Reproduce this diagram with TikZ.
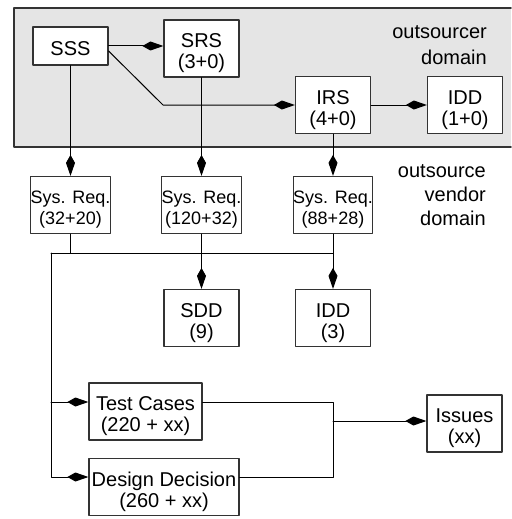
\documentclass[tikz,border=0pt]{standalone}
\usepackage{fontspec}
\setmainfont{Liberation Sans}
\usetikzlibrary{arrows.meta}
\definecolor{domaingray}{gray}{0.9}
\definecolor{boxline}{gray}{0.2}

\begin{document}
\begin{tikzpicture}[line cap=round,line join=round,x=1pt,y=-1pt,
    doc/.style={draw=boxline, line width=1.2pt, fill=white, align=center, inner sep=0pt,
      minimum width=75pt, minimum height=57pt, text height=41pt, text depth=1pt,
      font=\fontsize{20}{21}\selectfont},
    reqdoc/.style={doc, text height=40pt, font=\fontsize{18}{21}\selectfont},
    flow/.style={line width=1pt, -{Kite[length=21pt,width=9pt,inset=8pt]}},
    link/.style={line width=1pt},
    domainlabel/.style={align=right, anchor=base east, inner sep=0pt}]
  \useasboundingbox (0,0) rectangle (511,519);

  % outsourcer domain
  \fill[domaingray] (14,8) rectangle (511,147);
  \draw[draw=boxline, line width=1.5pt] (511,8) -- (14,8) -- (14,147) -- (511,147);
  \node[domainlabel, font=\fontsize{20}{27}\selectfont] (outlabel) at (487,65) {outsourcer\\domain};
  \node[domainlabel, font=\fontsize{20}{24}\selectfont] (vendorlabel) at (486,225) {outsource\\vendor\\domain};

  % documents
  \node[doc, minimum height=38pt, text height=21pt] (sss) at (70.5,46) {SSS};
  \node[doc] (srs) at (201.5,48.5) {SRS\\(3+0)};
  \node[doc] (irs) at (333,105) {IRS\\(4+0)};
  \node[doc] (iddout) at (465,105) {IDD\\(1+0)};

  \node[reqdoc] (req1) at (70.5,205) {Sys. Req.\\(32+20)};
  \node[reqdoc] (req2) at (201.5,205) {Sys. Req.\\(120+32)};
  \node[reqdoc] (req3) at (333,205) {Sys. Req.\\(88+28)};

  \node[doc] (sdd) at (201.5,318) {SDD\\(9)};
  \node[doc] (iddin) at (333,318) {IDD\\(3)};

  \node[doc, minimum width=113pt] (tests) at (145.5,411.5) {Test Cases\\(220 + xx)};
  \node[doc, minimum width=150pt] (design) at (164,487) {Design Decision\\(260 + xx)};
  \node[doc] (issues) at (464.5,423.5) {Issues\\(xx)};

  \coordinate (bend) at (163,105);
  \coordinate (bus) at (51,253);
  \coordinate (join) at (333,421);

  % outsourcer side
  \draw[flow] (sss.east) -- (sss.east -| srs.west);
  \draw[flow] ([yshift=-5pt]sss.east) -- (bend) -- (irs.west);
  \draw[flow] (irs.east) -- (iddout.west);

  % down to the vendor
  \draw[flow] (sss.south) -- (req1.north);
  \draw[flow] (srs.south) -- (req2.north);
  \draw[flow] (irs.south) -- (req3.north);

  % vendor side
  \draw[flow] (req2.south) -- (sdd.north);
  \draw[flow] (req3.south) -- (iddin.north);
  \draw[link] (req1.south) -- (req1.south |- bus);
  \draw[link] (bus) -- (bus -| req3.south);
  \draw[flow] (bus) |- ([yshift=10pt]design.west);
  \draw[flow] ([yshift=9.5pt]tests.west -| bus) -- ([yshift=9.5pt]tests.west);

  % issues
  \draw[link] ([yshift=9.5pt]tests.east) -| ([yshift=10pt]design.east -| join) -- ([yshift=10pt]design.east);
  \draw[flow] (join) -- (join -| issues.west);
\end{tikzpicture}
\end{document}
